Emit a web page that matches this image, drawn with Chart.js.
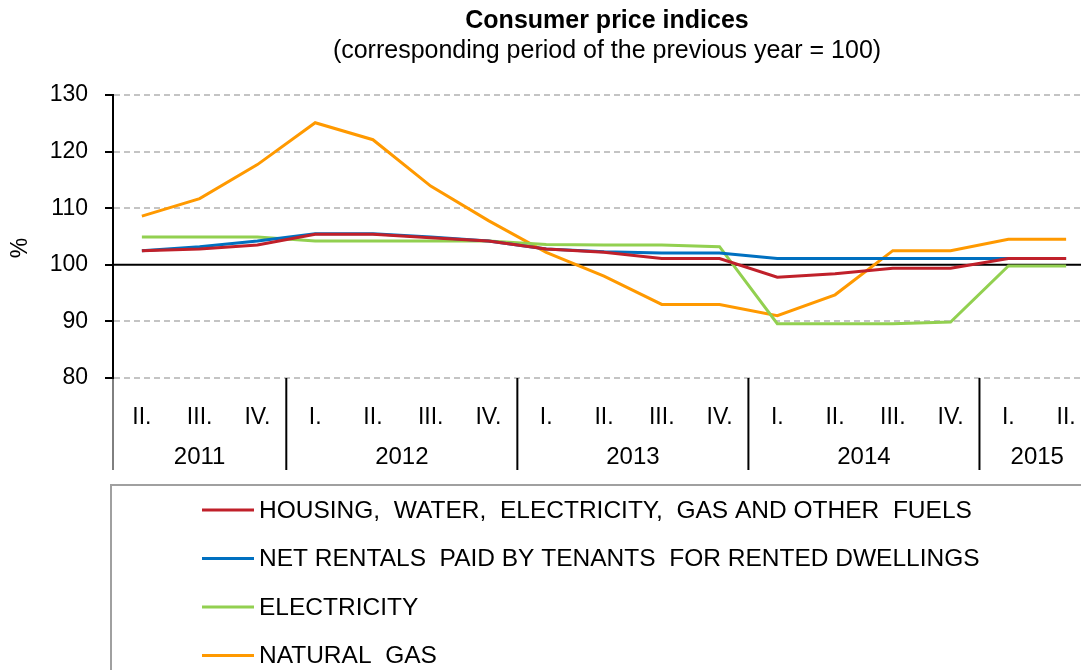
<!DOCTYPE html>
<html>
<head>
<meta charset="utf-8">
<script src="https://cdn.jsdelivr.net/npm/chart.js@4.4.0/dist/chart.umd.min.js"></script>
<style>
  html, body { margin: 0; padding: 0; background: #fff; overflow: hidden; }
  #wrap { position: relative; width: 1100px; height: 670px; }
</style>
</head>
<body>
<div id="wrap"><canvas id="cpi"></canvas></div>
<script>
// quarters 2011 II. .. 2015 II.
const quarters = ['II.', 'III.', 'IV.', 'I.', 'II.', 'III.', 'IV.', 'I.', 'II.', 'III.', 'IV.', 'I.', 'II.', 'III.', 'IV.', 'I.', 'II.'];
const years = ['2011', '2012', '2013', '2014', '2015'];
const yearSpans = [3, 4, 4, 4, 2];

const housing = [102.5, 102.8, 103.5, 105.4, 105.4, 104.8, 104.2, 102.8, 102.2, 101.1, 101.1, 97.8, 98.4, 99.4, 99.4, 101.1, 101.1];
const rentals = [102.5, 103.2, 104.2, 105.5, 105.5, 104.9, 104.2, 102.8, 102.3, 102.1, 102.1, 101.1, 101.1, 101.1, 101.1, 101.1, 101.1];
const electricity = [104.9, 104.9, 104.9, 104.2, 104.2, 104.2, 104.2, 103.6, 103.5, 103.5, 103.2, 89.6, 89.6, 89.6, 89.9, 99.8, 99.8];
const naturalGas = [108.6, 111.7, 117.7, 125.1, 122.1, 113.9, 107.8, 102.2, 98.0, 93.0, 93.0, 91.0, 94.7, 102.5, 102.5, 104.5, 104.5];

const seriesNames = [
  'HOUSING,  WATER,  ELECTRICITY,  GAS AND OTHER  FUELS',
  'NET RENTALS  PAID BY TENANTS  FOR RENTED DWELLINGS',
  'ELECTRICITY',
  'NATURAL  GAS'
];
const seriesColors = ['#c0202a', '#0070c0', '#92d050', '#ff9900'];

const yMin = 80, yMax = 130, yStep = 10;
const FONT = '"Liberation Sans", Arial, sans-serif';

const decor = {
  id: 'decor',
  beforeDatasetsDraw(chart) {
    const { ctx, chartArea } = chart;
    const y = chart.scales.y.getPixelForValue(100);
    ctx.save();
    ctx.strokeStyle = '#000';
    ctx.lineWidth = 2;
    ctx.beginPath();
    ctx.moveTo(chartArea.left, y);
    ctx.lineTo(chartArea.right, y);
    ctx.stroke();
    ctx.restore();
  },
  afterDraw(chart) {
    const { ctx, chartArea } = chart;
    const x = chart.scales.x;
    ctx.save();

    // title
    ctx.fillStyle = '#000';
    ctx.textAlign = 'center';
    ctx.textBaseline = 'middle';
    ctx.font = 'bold 25px ' + FONT;
    ctx.fillText('Consumer price indices', 607, 21);
    ctx.font = '25px ' + FONT;
    ctx.fillText('(corresponding period of the previous year = 100)', 607, 51);

    // y axis unit
    ctx.save();
    ctx.translate(21, 248);
    ctx.rotate(-Math.PI / 2);
    ctx.font = '23px ' + FONT;
    ctx.fillText('%', 0, 0);
    ctx.restore();

    // year separators and labels
    const bottom = chartArea.bottom;
    ctx.strokeStyle = '#000';
    ctx.lineWidth = 1;
    ctx.beginPath();
    ctx.moveTo(chartArea.left, bottom);
    ctx.lineTo(chartArea.left, 470);
    ctx.stroke();
    ctx.lineWidth = 2;
    ctx.font = '24px ' + FONT;
    let start = 0;
    years.forEach((yr, i) => {
      const end = start + yearSpans[i] - 1;
      const x0 = start === 0 ? chartArea.left : (x.getPixelForValue(start - 1) + x.getPixelForValue(start)) / 2;
      const x1 = end === quarters.length - 1 ? chartArea.right : (x.getPixelForValue(end) + x.getPixelForValue(end + 1)) / 2;
      if (start > 0) {
        ctx.beginPath();
        ctx.moveTo(x0, bottom);
        ctx.lineTo(x0, 470);
        ctx.stroke();
      }
      ctx.fillText(yr, (x0 + x1) / 2, 457);
      start = end + 1;
    });

    // legend box
    ctx.strokeStyle = '#a0a0a0';
    ctx.lineWidth = 2;
    ctx.strokeRect(111, 485, 1000, 220);
    ctx.textAlign = 'left';
    ctx.font = '24.5px ' + FONT;
    chart.data.datasets.forEach((ds, i) => {
      const ly = 510 + i * 48.5;
      ctx.strokeStyle = ds.borderColor;
      ctx.lineWidth = 3;
      ctx.beginPath();
      ctx.moveTo(202, ly);
      ctx.lineTo(254, ly);
      ctx.stroke();
      ctx.fillStyle = '#000';
      ctx.fillText(ds.label, 259, ly + 1);
    });
    ctx.restore();
  }
};

const values = [housing, rentals, electricity, naturalGas];

new Chart(document.getElementById('cpi'), {
  type: 'line',
  data: {
    labels: quarters,
    datasets: values.map((v, i) => ({
      label: seriesNames[i],
      data: v,
      borderColor: seriesColors[i],
      backgroundColor: seriesColors[i],
      borderWidth: 3,
      pointRadius: 0,
      tension: 0,
      fill: false
    }))
  },
  options: {
    responsive: true,
    maintainAspectRatio: false,
    animation: false,
    layout: { padding: { top: 95, right: 5, left: 0, bottom: 0 } },
    plugins: {
      legend: { display: false },
      title: { display: false },
      tooltip: { enabled: false }
    },
    scales: {
      x: {
        offset: true,
        afterFit(scale) { scale.height = 670 - 378; },
        grid: { display: false },
        border: { display: false },
        ticks: {
          color: '#000',
          font: { family: FONT, size: 23 },
          padding: 18,
          maxRotation: 0,
          autoSkip: false
        }
      },
      y: {
        min: yMin,
        max: yMax,
        afterFit(scale) { scale.width = 113; },
        ticks: {
          stepSize: yStep,
          color: '#000',
          font: { family: FONT, size: 23 },
          padding: 17
        },
        grid: {
          color: (c) => (c.tick && c.tick.value === 100 ? 'rgba(0,0,0,0)' : '#c4c4c4'),
          lineWidth: 2,
          tickColor: '#000',
          tickLength: 8,
          tickWidth: 2
        },
        border: { display: true, color: '#000', width: 2, dash: [6, 4] }
      }
    }
  },
  plugins: [decor]
});
</script>
</body>
</html>
